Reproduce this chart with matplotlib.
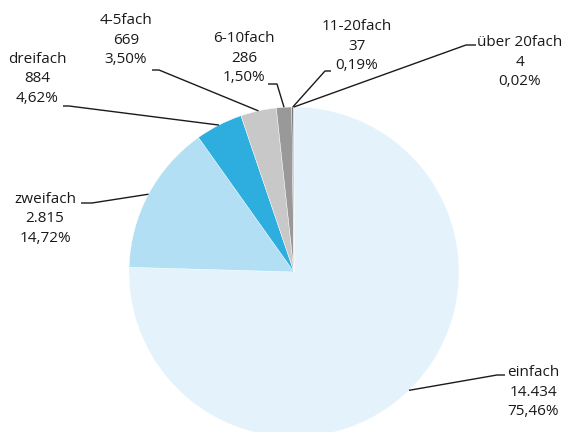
import matplotlib
matplotlib.use('Agg')
import matplotlib.pyplot as plt
import numpy as np

plt.rcParams['font.family'] = ['Open Sans', 'DejaVu Sans']

W, H = 564, 432

categories = ['einfach', 'zweifach', 'dreifach', '4-5fach', '6-10fach',
              '11-20fach', 'über 20fach']
counts = [14434, 2815, 884, 669, 286, 37, 4]
colors = ['#e3f2fb', '#b2dff3', '#2eaddf', '#c8c8c8', '#999999',
          '#6e6e6e', '#2b2b2b']

# label block centre and leader shoulder (x text side, x pie side, y), px from top
label_layout = {
    'einfach':     ((533, 392), (505, 497, 375)),
    'zweifach':    ((45, 219), (81, 92, 203)),
    'dreifach':    ((37, 79), (63, 69, 106)),
    '4-5fach':     ((126, 40), (152, 159, 70)),
    '6-10fach':    ((244, 58), (268, 277, 84)),
    '11-20fach':   ((357, 46), (331, 325, 71)),
    'über 20fach': ((520, 62), (476, 466, 45)),
}

center = (294, H - 272)
radius = 165


def de_int(n):
    return f'{n:,}'.replace(',', '.')


def de_pct(p):
    return f'{p:.2f}'.replace('.', ',') + '%'


fig = plt.figure(figsize=(W / 100, H / 100), dpi=100)
ax = fig.add_axes([0, 0, 1, 1])
ax.axis('off')

wedges, _ = ax.pie(counts, colors=colors, startangle=90, counterclock=False,
                   center=center, radius=radius,
                   wedgeprops=dict(edgecolor='white', linewidth=0.3))
ax.set_xlim(0, W)
ax.set_ylim(0, H)
ax.set_aspect('equal')

total = sum(counts)
for cat, n, w in zip(categories, counts, wedges):
    (tx, ty), (xt, xp, sy) = label_layout[cat]
    mid = np.deg2rad((w.theta1 + w.theta2) / 2)
    ex = center[0] + radius * np.cos(mid)
    ey = center[1] + radius * np.sin(mid)
    ax.plot([ex, xp, xt], [ey, H - sy, H - sy], color='#1a1a1a', lw=1.0,
            solid_capstyle='butt', zorder=3)
    ax.text(tx, H - ty, f'{cat}\n{de_int(n)}\n{de_pct(n / total * 100)}',
            ha='center', va='center', fontsize=11, linespacing=1.42,
            color='#1a1a1a')

fig.savefig('out.png', dpi=100, facecolor='white')
